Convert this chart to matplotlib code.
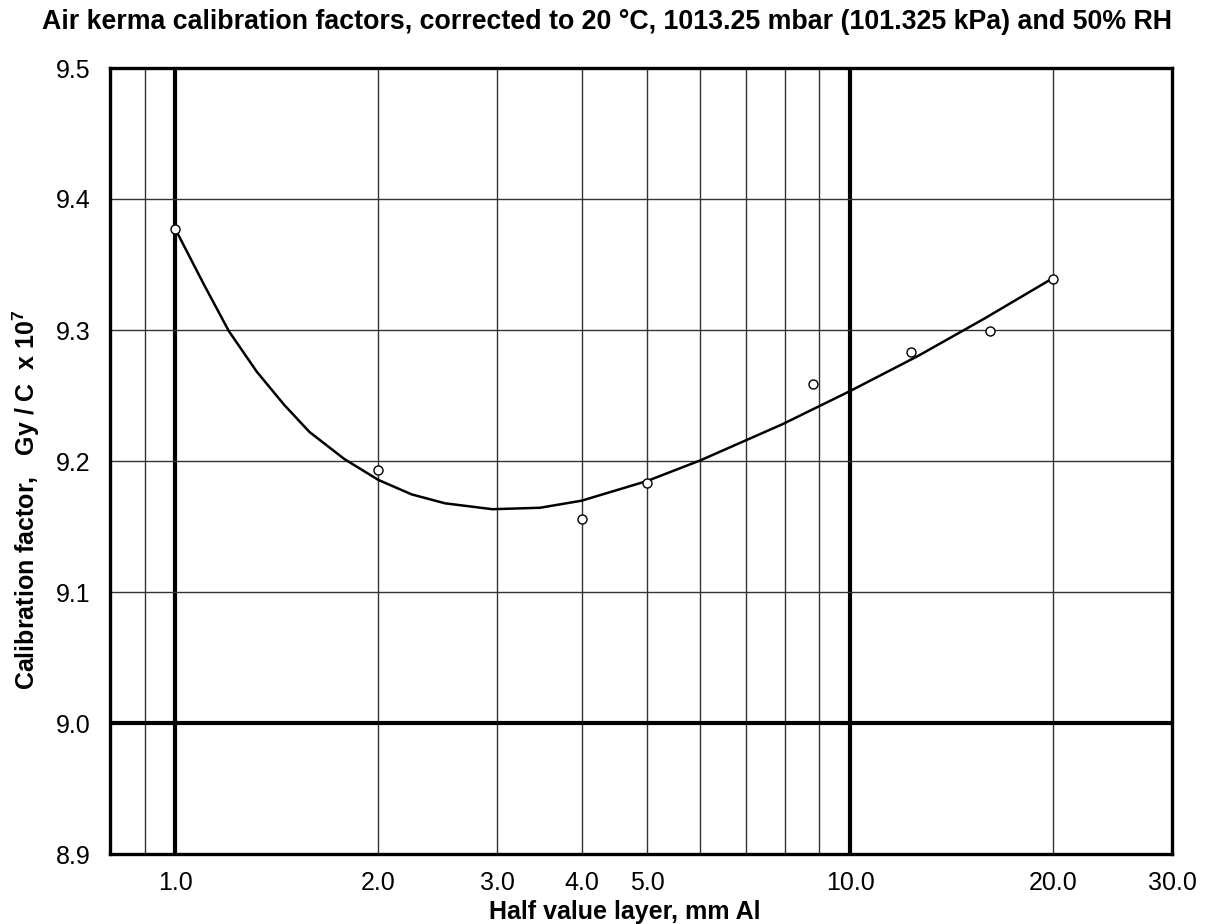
import numpy as np
import matplotlib
matplotlib.use('Agg')
import matplotlib.pyplot as plt

plt.rcParams['font.family'] = ['Liberation Sans', 'DejaVu Sans']
plt.rcParams['mathtext.fontset'] = 'custom'
plt.rcParams['mathtext.rm'] = 'Liberation Sans'
plt.rcParams['mathtext.bf'] = 'Liberation Sans:bold'

hvl = [1.0, 2.0, 4.0, 5.0, 8.8, 12.3, 16.1, 20.0]          # mm Al
cal_factor = [9.377, 9.193, 9.156, 9.183, 9.259, 9.283, 9.299, 9.339]  # Gy/C x 1e7

# smooth trend line
trend_hvl = [1.0, 1.1, 1.2, 1.32, 1.45, 1.58, 1.78, 2.0, 2.24, 2.51, 2.95, 3.47,
             4.0, 5.0, 6.0, 7.94, 10.0, 12.6, 15.8, 20.0]
trend_cal = [9.377, 9.3356, 9.2992, 9.2682, 9.2428, 9.2222, 9.2015, 9.1855, 9.1745,
             9.1677, 9.1632, 9.1643, 9.1697, 9.1847, 9.2005, 9.2281, 9.2534, 9.2801,
             9.3086, 9.3397]

x_ticks = [1.0, 2.0, 3.0, 4.0, 5.0, 10.0, 20.0, 30.0]
x_ticklabels = ['1.0', '2.0', '3.0', '4.0', '5.0', '10.0', '20.0', '30.0']
y_ticks = [8.9, 9.0, 9.1, 9.2, 9.3, 9.4, 9.5]

x_grid_thin = [0.9, 2, 3, 4, 5, 6, 7, 8, 9, 20]
x_grid_thick = [1.0, 10.0]
y_grid_thin = [9.1, 9.2, 9.3, 9.4]
y_grid_thick = [9.0]

title = 'Air kerma calibration factors, corrected to 20 \u00b0C, 1013.25 mbar (101.325 kPa) and 50% RH'

W, H = 1213, 924
fig = plt.figure(figsize=(W / 100, H / 100), dpi=100)
ax = fig.add_axes([110 / W, 1 - 854 / H, 1062 / W, 786 / H])

ax.set_xscale('log')
ax.set_xlim(0.8, 30)
ax.set_ylim(8.9, 9.5)

# grid
for g in x_grid_thin:
    ax.axvline(g, color='#333333', lw=1.0, zorder=1)
for g in x_grid_thick:
    ax.axvline(g, color='black', lw=3.0, zorder=1)
for g in y_grid_thin:
    ax.axhline(g, color='#333333', lw=1.0, zorder=1)
for g in y_grid_thick:
    ax.axhline(g, color='black', lw=3.0, zorder=1)

ax.plot(trend_hvl, trend_cal, color='black', lw=1.8, zorder=2,
        solid_joinstyle='round')
ax.plot(hvl, cal_factor, 'o', ms=6.5, mfc='white', mec='black', mew=1.0, zorder=3)

ax.set_xticks(x_ticks)
ax.set_xticklabels(x_ticklabels)
ax.xaxis.set_minor_locator(matplotlib.ticker.NullLocator())
ax.set_yticks(y_ticks)
ax.set_yticklabels(['%.1f' % v for v in y_ticks])
ax.tick_params(axis='both', length=0, labelsize=18)
ax.tick_params(axis='x', pad=12)
ax.tick_params(axis='y', pad=14)

for s in ax.spines.values():
    s.set_linewidth(2.4)
    s.set_zorder(4)

ax.set_xlabel('Half value layer, mm Al', fontsize=18, fontweight='bold')
ax.xaxis.set_label_coords((625 - 110) / 1062, -0.059)
ax.set_ylabel('Calibration factor,   Gy / C  x 10$^{\\mathbf{7}}$', fontsize=18,
              fontweight='bold')
ax.yaxis.set_label_coords(-0.064, (854 - 500) / 786)

fig.text(0.5, 1 - 22 / H, title, ha='center', va='center', fontsize=19.3, fontweight='bold')

fig.savefig('out.png', dpi=100)
